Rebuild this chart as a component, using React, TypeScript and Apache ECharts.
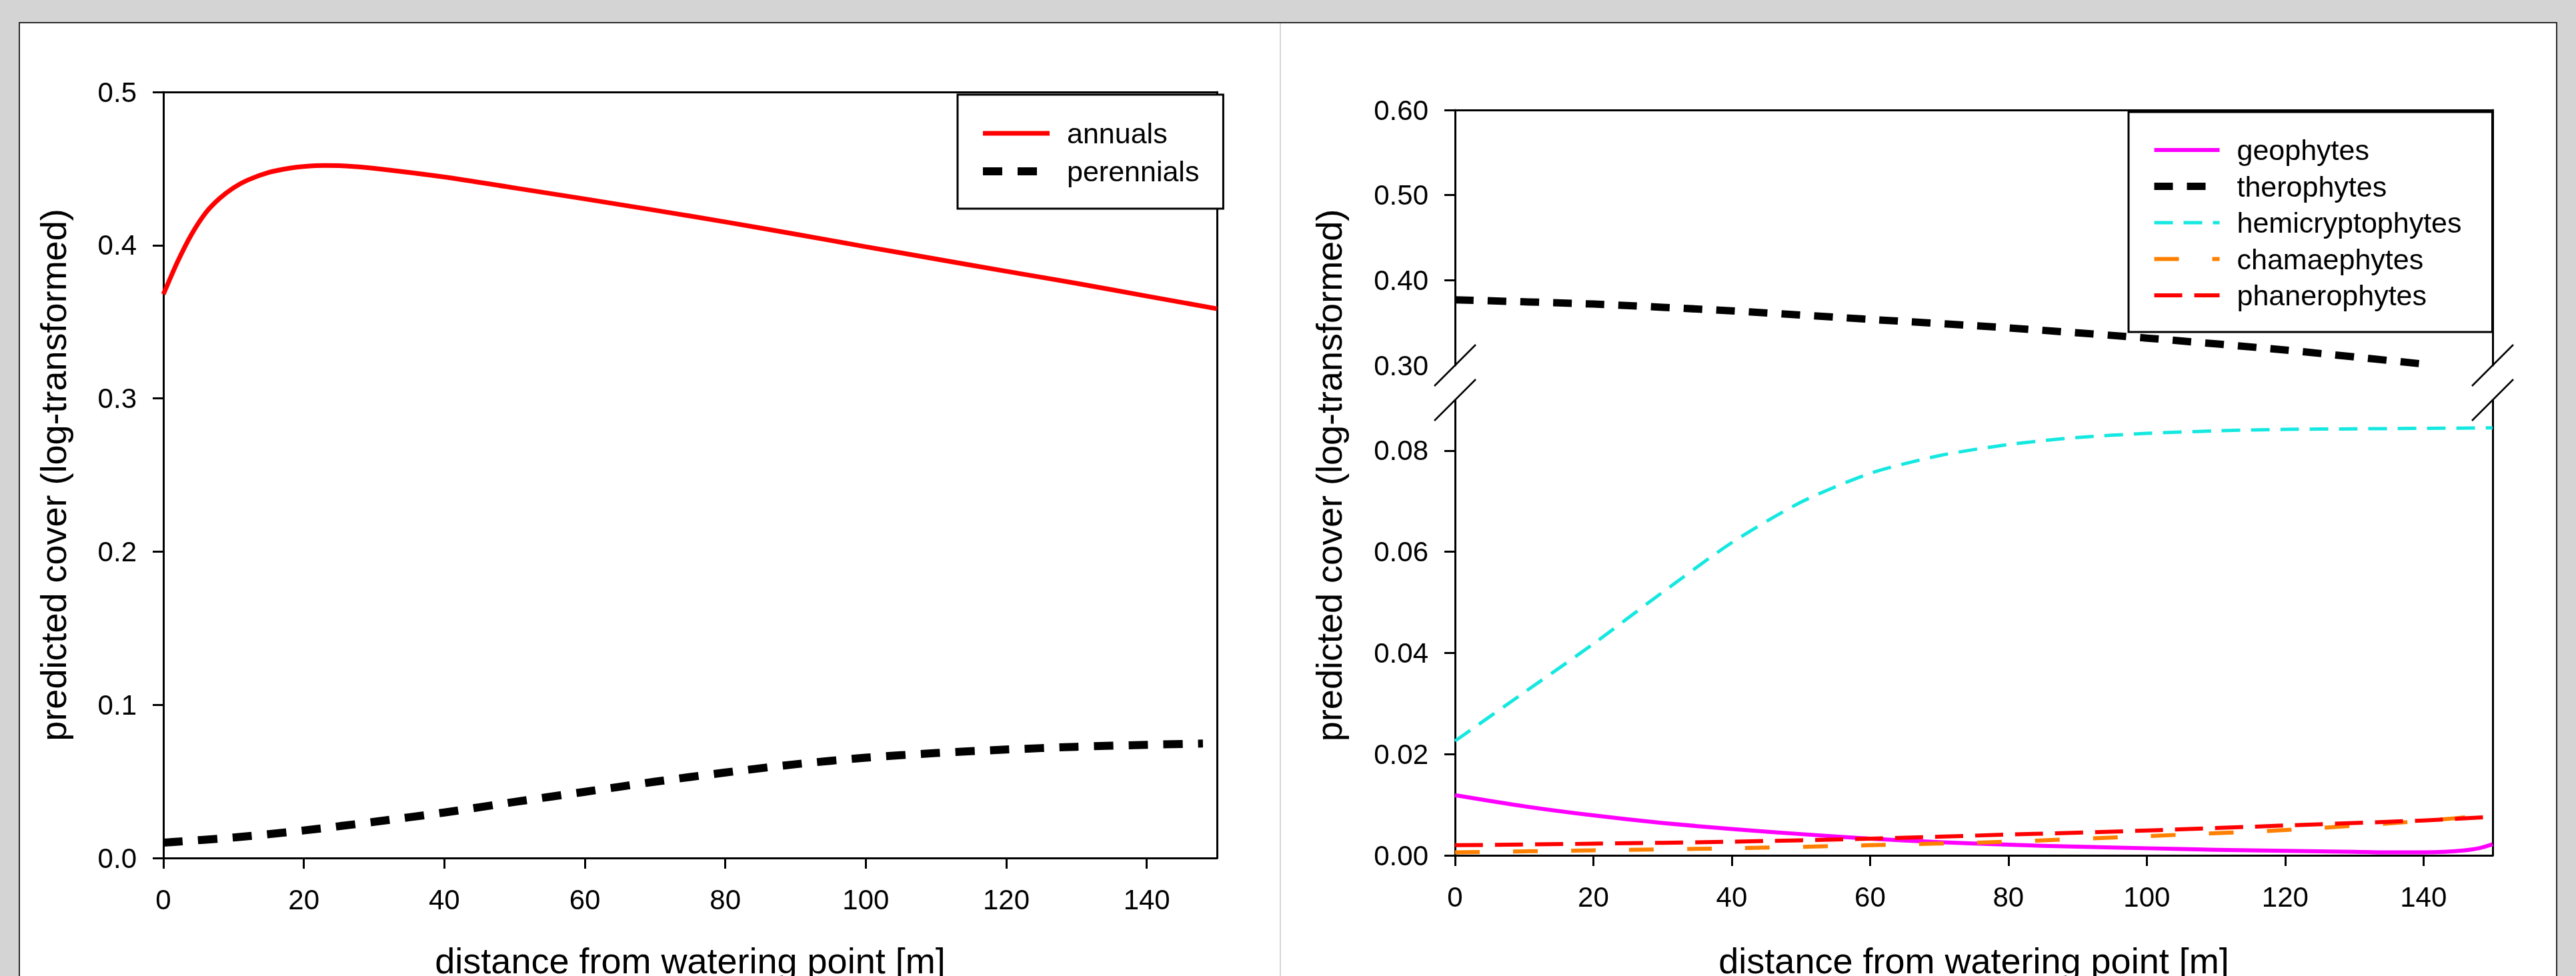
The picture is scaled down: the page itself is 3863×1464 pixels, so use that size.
import React, { useEffect, useRef } from "react";
import * as echarts from "echarts";

const FONT = "'Liberation Sans', Arial, Helvetica, sans-serif";

// ---------- axis ticks ----------
const xTicks = [0, 20, 40, 60, 80, 100, 120, 140];
const leftYTicks = [0, 0.1, 0.2, 0.3, 0.4, 0.5];
const upperYTicks = [0.3, 0.4, 0.5, 0.6];
const lowerYTicks = [0, 0.02, 0.04, 0.06, 0.08];

// ---------- left panel ----------
const annualsX = [0, 2, 4, 6, 8, 10, 12, 15, 18, 20, 23, 26, 30, 40, 50, 60, 70, 80, 90, 100, 110, 120, 130, 140, 150];
const annualsY = [0.368, 0.389, 0.407, 0.421, 0.4305, 0.4375, 0.4425, 0.4475, 0.4503, 0.4514, 0.452, 0.4517, 0.4502, 0.4445, 0.4374, 0.4302, 0.4228, 0.4152, 0.4072, 0.399, 0.391, 0.383, 0.3751, 0.3668, 0.3585];
const perennialsX = [0, 10, 20, 30, 40, 50, 60, 70, 80, 90, 100, 110, 120, 130, 140, 148];
const perennialsY = [0.01, 0.0134, 0.018, 0.0236, 0.0297, 0.0366, 0.0432, 0.0498, 0.0558, 0.0612, 0.0655, 0.0685, 0.0708, 0.0726, 0.0739, 0.0747];

// ---------- right panel ----------
const geoX = [0, 10, 20, 30, 40, 50, 60, 70, 80, 90, 100, 110, 120, 130, 135, 140, 143, 146, 148, 150];
const geoY = [0.0119, 0.0097, 0.0079, 0.0064, 0.0052, 0.0042, 0.0033, 0.0026, 0.0021, 0.0017, 0.0014, 0.0011, 0.0009, 0.0007, 0.0006, 0.0006, 0.0007, 0.001, 0.0014, 0.0022];
const theroX = [0, 20, 40, 60, 80, 100, 120, 140];
const theroY = [0.377, 0.372, 0.364, 0.354, 0.344, 0.332, 0.318, 0.3015];
const hemiX = [0, 10, 20, 30, 40, 50, 60, 70, 80, 90, 100, 110, 120, 130, 140, 150];
const hemiY = [0.0226, 0.0322, 0.0418, 0.052, 0.0618, 0.0698, 0.0755, 0.079, 0.0812, 0.0826, 0.0834, 0.0839, 0.0842, 0.0843, 0.0844, 0.0845];
const chamaeX = [0, 20, 40, 60, 80, 100, 120, 140, 150];
const chamaeY = [0.0006, 0.001, 0.0014, 0.002, 0.0027, 0.0038, 0.005, 0.0068, 0.008];
const phaneroX = [0, 20, 40, 60, 80, 100, 120, 140, 150];
const phaneroY = [0.002, 0.0023, 0.0027, 0.0033, 0.0041, 0.0049, 0.0059, 0.0069, 0.0076];

const Y_TITLE = "predicted cover (log-transformed)";
const X_TITLE = "distance from watering point [m]";

const zip = (xs: number[], ys: number[]) => xs.map((x, i) => [x, ys[i]]);

const lineOnlyAxis = (extra: any) => ({
  type: "value",
  axisLine: { show: true, onZero: false, lineStyle: { color: "#000", width: 3 } },
  axisTick: { show: false },
  axisLabel: { show: false },
  splitLine: { show: false },
  ...extra,
});

const labelStyle = { fontSize: 42, fontFamily: FONT, color: "#000" };

const mainX = (gridIndex: number, nameGap: number) => ({
  type: "value",
  gridIndex,
  position: "bottom",
  min: 0,
  max: 150,
  interval: 20,
  axisLine: { show: true, onZero: false, lineStyle: { color: "#000", width: 3 } },
  axisTick: { show: true, length: 16, lineStyle: { color: "#000", width: 3 }, customValues: xTicks },
  axisLabel: { ...labelStyle, margin: 41, customValues: xTicks, formatter: (v: number) => String(v) },
  splitLine: { show: false },
  name: X_TITLE,
  nameLocation: "middle",
  nameGap,
  nameTextStyle: { fontSize: 54, fontFamily: FONT, color: "#000" },
});

const mainY = (gridIndex: number, min: number, max: number, interval: number, ticks: number[], tickMarks: number[], digits: number, extra: any = {}) => ({
  type: "value",
  gridIndex,
  position: "left",
  min,
  max,
  interval,
  axisLine: { show: true, onZero: false, lineStyle: { color: "#000", width: 3 } },
  axisTick: { show: true, length: 16, lineStyle: { color: "#000", width: 3 }, customValues: tickMarks },
  axisLabel: { ...labelStyle, margin: 40, customValues: ticks, formatter: (v: number) => v.toFixed(digits) },
  splitLine: { show: false },
  ...extra,
});

const lineSeries = (name: string, xs: number[], ys: number[], color: string, width: number, type: any, xi: number, yi: number) => ({
  type: "line",
  name,
  data: zip(xs, ys),
  xAxisIndex: xi,
  yAxisIndex: yi,
  symbol: "none",
  smooth: 0.25,
  lineStyle: { color, width, type, cap: "butt", join: "round" },
  itemStyle: { color },
  z: 5,
});

const legendBase = {
  orient: "vertical",
  borderColor: "#000",
  borderWidth: 3,
  backgroundColor: "#fff",
  itemHeight: 50,
  selectedMode: false,
  itemStyle: { opacity: 0 },
  lineStyle: { width: "inherit", type: "inherit" },
  textStyle: { fontSize: 43, fontFamily: FONT, color: "#000", lineHeight: 50, padding: [0, 0, 0, 21] },
  z: 20,
};

const gridBase = { containLabel: false, outerBoundsMode: "none" };

export default function App() {
  const ref = useRef<HTMLDivElement>(null);

  useEffect(() => {
    if (!ref.current) return;
    const chart = echarts.init(ref.current, null, { renderer: "svg" });

    const option: any = {
      animation: false,
      backgroundColor: "transparent",
      textStyle: { fontFamily: FONT },
      grid: [
        { ...gridBase, left: 245, top: 138, width: 1580, height: 1149 },
        { ...gridBase, left: 2182, top: 165, width: 1556, height: 383 },
        { ...gridBase, left: 2182, top: 600, width: 1556, height: 683 },
      ],
      xAxis: [
        mainX(0, 127),
        lineOnlyAxis({ gridIndex: 0, position: "top", min: 0, max: 150 }),
        lineOnlyAxis({ gridIndex: 1, position: "top", min: 0, max: 150 }),
        mainX(2, 131),
      ],
      yAxis: [
        mainY(0, 0, 0.5, 0.1, leftYTicks, leftYTicks, 1, {
          name: Y_TITLE,
          nameLocation: "middle",
          nameGap: 138,
          nameTextStyle: { fontSize: 54, fontFamily: FONT, color: "#000" },
        }),
        lineOnlyAxis({ gridIndex: 0, position: "right", min: 0, max: 0.5 }),
        mainY(1, 0.3, 0.6, 0.1, upperYTicks, upperYTicks.slice(1), 2),
        lineOnlyAxis({ gridIndex: 1, position: "right", min: 0.3, max: 0.6 }),
        mainY(2, 0, 0.09, 0.01, lowerYTicks, lowerYTicks, 2),
        lineOnlyAxis({ gridIndex: 2, position: "right", min: 0, max: 0.09 }),
      ],
      legend: [
        {
          ...legendBase,
          data: ["annuals", "perennials"],
          left: 1436,
          top: 142,
          padding: [33, 36, 31, 32],
          itemWidth: 100,
          itemGap: 7,
        },
        {
          ...legendBase,
          data: ["geophytes", "therophytes", "hemicryptophytes", "chamaephytes", "phanerophytes"],
          left: 3192,
          top: 168,
          padding: [32, 46, 30, 33],
          itemWidth: 98,
          itemGap: 4.5,
        },
      ],
      series: [
        lineSeries("annuals", annualsX, annualsY, "#ff0000", 7, "solid", 0, 0),
        lineSeries("perennials", perennialsX, perennialsY, "#000000", 12, [29, 23], 0, 0),
        lineSeries("geophytes", geoX, geoY, "#ff00ff", 6, "solid", 3, 4),
        lineSeries("therophytes", theroX, theroY, "#000000", 11, [28, 21], 2, 2),
        lineSeries("hemicryptophytes", hemiX, hemiY, "#14e8e0", 5, [28, 16], 3, 4),
        lineSeries("chamaephytes", chamaeX, chamaeY, "#ff8000", 6, [37, 50], 3, 4),
        lineSeries("phanerophytes", phaneroX, phaneroY, "#ff0000", 6, [42, 18], 3, 4),
      ],
    };
    chart.setOption(option);

    // decorations derived from the axes' own scales
    const xL = chart.convertToPixel({ xAxisIndex: 3 }, 0) as number;
    const xR = chart.convertToPixel({ xAxisIndex: 3 }, 150) as number;
    const yBreakUp = chart.convertToPixel({ yAxisIndex: 2 }, 0.3) as number;
    const yBreakLo = chart.convertToPixel({ yAxisIndex: 4 }, 0.09) as number;
    const yTop = chart.convertToPixel({ yAxisIndex: 2 }, 0.6) as number;
    const yBot = chart.convertToPixel({ yAxisIndex: 4 }, 0) as number;

    const diag = (cx: number, cy: number) => ({
      type: "line",
      z: 30,
      silent: true,
      shape: { x1: cx - 31, y1: cy + 31, x2: cx + 31, y2: cy - 31 },
      style: { stroke: "#000", lineWidth: 2.5 },
    });

    chart.setOption({
      graphic: {
        elements: [
          {
            type: "rect",
            z: -100,
            silent: true,
            shape: { x: 0, y: 0, width: 3863, height: 1464 },
            style: { fill: "#d4d4d4" },
          },
          {
            type: "rect",
            z: -99,
            silent: true,
            shape: { x: 29, y: 34, width: 3805, height: 1450 },
            style: { fill: "#ffffff", stroke: "#2a2a2a", lineWidth: 2 },
          },
          {
            type: "line",
            z: -98,
            silent: true,
            shape: { x1: 1920, y1: 35, x2: 1920, y2: 1464 },
            style: { stroke: "#c8c8c8", lineWidth: 1.5 },
          },
          diag(xL, yBreakUp),
          diag(xL, yBreakLo),
          diag(xR, yBreakUp),
          diag(xR, yBreakLo),
          {
            type: "text",
            z: 30,
            silent: true,
            x: xL - 189,
            y: (yTop + yBot) / 2 - 11,
            rotation: Math.PI / 2,
            style: {
              text: Y_TITLE,
              fontSize: 54,
              fontFamily: FONT,
              fill: "#000",
              align: "center",
              verticalAlign: "middle",
            },
          },
        ],
      },
    });

    return () => chart.dispose();
  }, []);

  return (
    <div
      ref={ref}
      style={{ position: "fixed", left: 0, top: 0, width: 3863, height: 1464 }}
    />
  );
}
